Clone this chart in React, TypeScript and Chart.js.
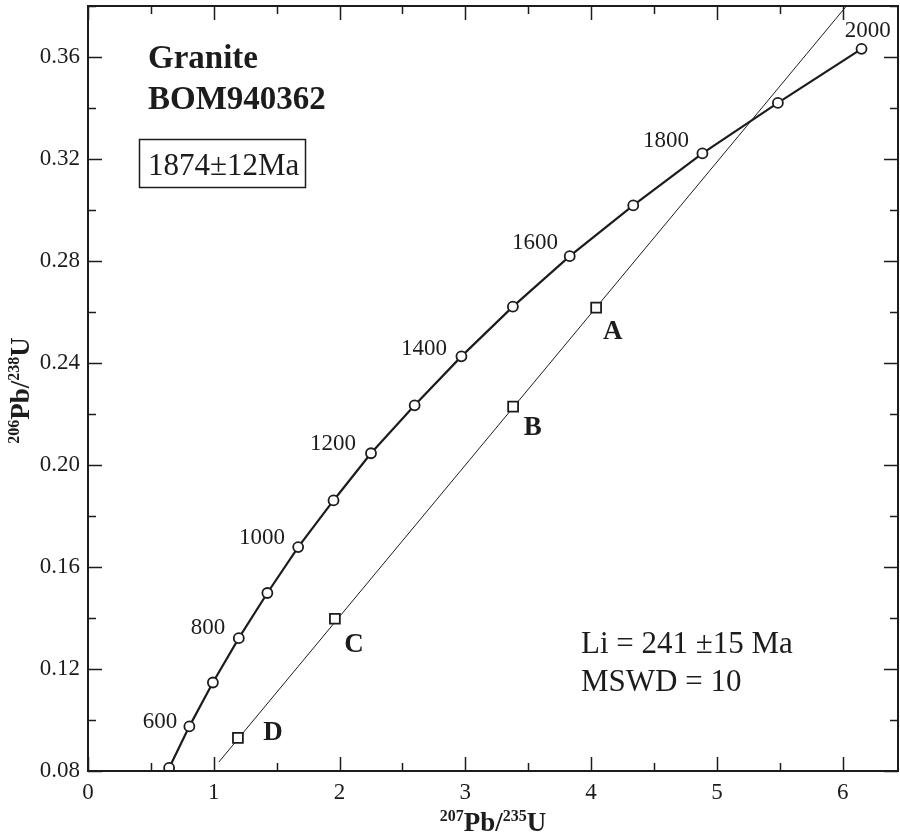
import React, { useEffect, useRef } from 'react';
import { Chart, registerables } from 'chart.js';
Chart.register(...registerables);

const FONT = '"Liberation Serif", "Times New Roman", serif';

// Concordia points (500–2000 Ma every 100 Ma)
const concordiaX = [0.645, 0.806, 0.993, 1.199, 1.426, 1.671, 1.952, 2.250, 2.597, 2.969, 3.378, 3.830, 4.335, 4.885, 5.485, 6.150];
const concordiaY = [0.0812, 0.0975, 0.1147, 0.1321, 0.1498, 0.1678, 0.1861, 0.2046, 0.2234, 0.2426, 0.2621, 0.2819, 0.3018, 0.3222, 0.3420, 0.3632];

// Age labels
const ageLabels = ['600', '800', '1000', '1200', '1400', '1600', '1800', '2000'];
const ageLabelX = [0.572, 0.954, 1.383, 1.948, 2.671, 3.553, 4.595, 6.200];
const ageLabelY = [0.0992, 0.1361, 0.1715, 0.2084, 0.2457, 0.2869, 0.3269, 0.3701];

// Samples
const sampleNames = ['A', 'B', 'C', 'D'];
const sampleX = [4.04, 3.38, 1.963, 1.192];
const sampleY = [0.2617, 0.2229, 0.1397, 0.0930];
const sampleLabelX = [4.173, 3.537, 2.114, 1.471];
const sampleLabelY = [0.2523, 0.2146, 0.1295, 0.0949];

// Discordia line
const discordiaX = [1.04, 6.03];
const discordiaY = [0.0835, 0.38];

// Axis
const xMin = 0, xMax = 6.44, xStep = 0.5;
const yMin = 0.08, yMax = 0.38, yStep = 0.02;

const INK = '#1c1c1c';

type Seg = { t: string; sup?: boolean };
function drawRich(ctx: CanvasRenderingContext2D, segs: Seg[], cx: number, baseY: number) {
  const big = `bold 27px ${FONT}`;
  const small = `bold 16px ${FONT}`;
  let total = 0;
  const widths = segs.map(s => {
    ctx.font = s.sup ? small : big;
    const w = ctx.measureText(s.t).width;
    total += w;
    return w;
  });
  let x = cx - total / 2;
  ctx.textAlign = 'left';
  ctx.textBaseline = 'alphabetic';
  segs.forEach((s, i) => {
    ctx.font = s.sup ? small : big;
    ctx.fillText(s.t, x, s.sup ? baseY - 10 : baseY);
    x += widths[i];
  });
}

const overlay = {
  id: 'overlay',
  afterDraw(chart: any) {
    const ctx: CanvasRenderingContext2D = chart.ctx;
    const xs = chart.scales.x;
    const ys = chart.scales.y;
    const { left, right, top, bottom } = chart.chartArea;
    ctx.save();
    ctx.strokeStyle = INK;
    ctx.fillStyle = INK;
    // frame
    ctx.lineWidth = 2;
    ctx.strokeRect(left, top, right - left, bottom - top);
    // ticks
    ctx.lineWidth = 1.5;
    ctx.beginPath();
    xs.ticks.forEach((t: any) => {
      const v = t.value;
      const px = Math.round(xs.getPixelForValue(v)) + 0.5;
      const major = Math.abs(v - Math.round(v)) < 1e-6;
      const len = major ? 14 : 8;
      ctx.moveTo(px, bottom);
      ctx.lineTo(px, bottom - len);
      ctx.moveTo(px, top);
      ctx.lineTo(px, top + len);
    });
    ys.ticks.forEach((t: any) => {
      const v = t.value;
      const py = Math.round(ys.getPixelForValue(v)) + 0.5;
      const r = v / 0.04;
      const major = Math.abs(r - Math.round(r)) < 1e-6;
      const len = major ? 14 : 8;
      ctx.moveTo(left, py);
      ctx.lineTo(left + len, py);
      ctx.moveTo(right, py);
      ctx.lineTo(right - len, py);
    });
    ctx.stroke();

    // age labels
    ctx.font = `23px ${FONT}`;
    ctx.textAlign = 'center';
    ctx.textBaseline = 'middle';
    ageLabels.forEach((l, i) => {
      ctx.fillText(l, xs.getPixelForValue(ageLabelX[i]), ys.getPixelForValue(ageLabelY[i]));
    });
    // sample labels
    ctx.font = `bold 27px ${FONT}`;
    sampleNames.forEach((l, i) => {
      ctx.fillText(l, xs.getPixelForValue(sampleLabelX[i]), ys.getPixelForValue(sampleLabelY[i]));
    });

    // title block
    ctx.textAlign = 'left';
    ctx.textBaseline = 'alphabetic';
    ctx.font = `bold 33px ${FONT}`;
    ctx.fillText('Granite', left + 60, top + 62);
    ctx.fillText('BOM940362', left + 60, top + 103);
    ctx.font = `31px ${FONT}`;
    ctx.fillText('1874±12Ma', left + 60, top + 169);
    ctx.lineWidth = 1.5;
    ctx.strokeRect(left + 51.5, top + 133.5, 166, 48);

    ctx.font = `31px ${FONT}`;
    ctx.fillText('Li = 241 ±15 Ma', left + 493, top + 647);
    ctx.fillText('MSWD = 10', left + 493, top + 685);

    // axis titles
    drawRich(ctx, [{ t: '207', sup: true }, { t: 'Pb/' }, { t: '235', sup: true }, { t: 'U' }], (left + right) / 2, 831);
    ctx.save();
    ctx.translate(29, (top + bottom) / 2 + 2);
    ctx.rotate(-Math.PI / 2);
    drawRich(ctx, [{ t: '206', sup: true }, { t: 'Pb/' }, { t: '238', sup: true }, { t: 'U' }], 0, 0);
    ctx.restore();
    ctx.restore();
  },
};

function zeroPadding(s: any) {
  s.paddingTop = 0;
  s.paddingBottom = 0;
  s.paddingLeft = 0;
  s.paddingRight = 0;
}

export default function App() {
  const ref = useRef<HTMLCanvasElement | null>(null);
  useEffect(() => {
    if (!ref.current) return;
    const chart = new Chart(ref.current, {
      type: 'scatter',
      data: {
        datasets: [
          {
            label: 'samples',
            data: sampleX.map((x, i) => ({ x, y: sampleY[i] })),
            showLine: false,
            pointStyle: 'rect',
            pointRadius: 7,
            pointBorderWidth: 1.8,
            pointBackgroundColor: '#ffffff',
            pointBorderColor: INK,
          },
          {
            label: 'concordia',
            data: concordiaX.map((x, i) => ({ x, y: concordiaY[i] })),
            showLine: true,
            borderColor: INK,
            borderWidth: 2.2,
            tension: 0,
            pointStyle: 'circle',
            pointRadius: 5,
            pointBorderWidth: 1.8,
            pointBackgroundColor: '#ffffff',
            pointBorderColor: INK,
          },
          {
            label: 'discordia',
            data: discordiaX.map((x, i) => ({ x, y: discordiaY[i] })),
            showLine: true,
            borderColor: INK,
            borderWidth: 1,
            pointRadius: 0,
          },
        ],
      },
      options: {
        responsive: false,
        animation: false,
        layout: { autoPadding: false, padding: { top: 6, right: 2, left: 0, bottom: 0 } },
        plugins: { legend: { display: false }, tooltip: { enabled: false } },
        scales: {
          x: {
            type: 'linear',
            min: xMin,
            max: xMax,
            border: { display: false },
            grid: { display: false, drawTicks: false },
            ticks: {
              stepSize: xStep,
              includeBounds: false,
              autoSkip: false,
              maxRotation: 0,
              padding: 8,
              color: INK,
              font: { family: FONT, size: 23 },
              callback: (v: any) => (Math.abs(v - Math.round(v)) < 1e-6 ? String(Math.round(v)) : ''),
            },
            afterFit: (s: any) => { s.height = 65; zeroPadding(s); },
          },
          y: {
            type: 'linear',
            min: yMin,
            max: yMax,
            border: { display: false },
            grid: { display: false, drawTicks: false },
            ticks: {
              stepSize: yStep,
              includeBounds: false,
              autoSkip: false,
              padding: 8,
              color: INK,
              font: { family: FONT, size: 23 },
              callback: (v: any) => {
                const r = v / 0.04;
                return Math.abs(r - Math.round(r)) < 1e-6 ? Number(v).toFixed(2) : '';
              },
            },
            afterFit: (s: any) => { s.width = 88; zeroPadding(s); },
          },
        },
      },
      plugins: [overlay],
    });
    return () => chart.destroy();
  }, []);
  return (
    <div style={{ position: 'absolute', left: 0, top: 0, width: 900, height: 836, background: '#fff' }}>
      <canvas ref={ref} width={900} height={836} />
    </div>
  );
}
